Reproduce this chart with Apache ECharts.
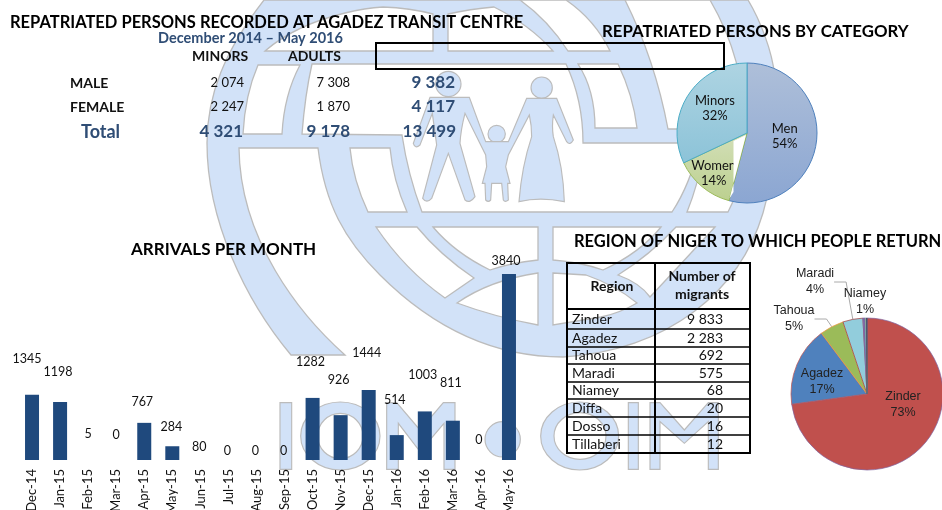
<!DOCTYPE html>
<html>
<head>
<meta charset="utf-8">
<title>Repatriated persons at Agadez transit centre</title>
<style>html,body{margin:0;padding:0;background:#fff}#main{width:942px;height:510px}</style>
<script src="https://cdn.jsdelivr.net/npm/echarts@6/dist/echarts.min.js"></script>
</head>
<body>
<div id="main"></div>
<script>
// arrivals per month
var months = ['Dec-14','Jan-15','Feb-15','Mar-15','Apr-15','May-15','Jun-15','Jul-15','Aug-15','Sep-15','Oct-15','Nov-15','Dec-15','Jan-16','Feb-16','Mar-16','Apr-16','May-16'];
var arrivals = [1345,1198,5,0,767,284,80,0,0,0,1282,926,1444,514,1003,811,0,3840];

// summary table
var rowNames = ['MALE','FEMALE'];
var minors = [2074,2247];
var adults = [7308,1870];
var rowTotals = [9382,4117];
var totalMinors = 4321, totalAdults = 9178, grandTotal = 13499;

// category pie
var categories = ['Men','Women','Minors'];
var categoryValues = [7308,1870,4321];

// regions
var regions = ['Zinder','Agadez','Tahoua','Maradi','Niamey','Diffa','Dosso','Tillaberi'];
var regionValues = [9833,2283,692,575,68,20,16,12];

var FONT = 'Lato';
var NAVY = '#2f4d75';

function fmt(n) {
  return String(n).replace(/\B(?=(\d{3})+$)/g, ' ');
}

function txt(s, x, y, size, opt) {
  opt = opt || {};
  return {
    type: 'text', x: x, y: y, z: 6,
    style: {
      text: s, fontFamily: FONT, fontSize: size,
      fontWeight: opt.bold ? 'bold' : 'normal',
      fill: opt.color || '#111',
      align: opt.align || 'left', verticalAlign: 'middle'
    }
  };
}

function line(x1, y1, x2, y2, w) {
  return {type: 'line', z: 6, shape: {x1: x1, y1: y1, x2: x2, y2: y2}, style: {stroke: '#000', lineWidth: w}};
}

// graphic has no plain svg path type, so register one shape per path
var pathCount = 0;
function svgShape(d, style, z) {
  var name = 'logoPath' + (pathCount++);
  echarts.graphic.registerShape(name, echarts.graphic.extendPath(d, {}));
  return {type: name, z: z, style: style};
}

// ---- IOM logo behind everything
var BLUE = '#d2e2f8', EDGE = '#bcbcbc';
var holes = [
  'M265,51 Q295,25 345,13 Q365,8 383,7 Q410,8 433,14 L433,51 Z',
  'M448,51 L553,51 Q530,25 494,7 Q470,9 448,14 Z',
  'M568,51 L610,51 Q595,20 566,0 L520,0 Q548,20 568,51 Z',
  'M258,65 L300,65 Q284,95 282,134 L243,134 Q245,95 258,65 Z',
  'M302,134 Q305,95 312,64 L566,64 Q583,100 583,143 L700,143 Q690,185 672,212 L422,212 Q408,175 402,135 Z',
  'M578,64 L618,64 Q633,95 637,128 L595,128 Q595,90 578,64 Z',
  'M625,0 Q655,60 668,129 L745,129 Q745,60 710,0 Z',
  'M687,212 L728,212 Q742,185 748,155 L703,155 Q698,185 687,212 Z',
  'M350,148 L390,148 Q393,180 407,212 L368,212 Q353,180 350,148 Z',
  'M376,227 L417,227 Q440,255 474,278 L445,298 Q405,270 376,227 Z',
  'M433,227 L538,227 L538,260 Q510,263 490,270 Q455,253 433,227 Z',
  'M538,273 L538,325 Q495,317 457,303 Q490,280 538,273 Z',
  'M553,227 L661,227 Q640,253 603,270 Q580,262 553,260 Z',
  'M553,273 Q570,274 586,275 Q615,285 637,303 Q620,313 601,317 L553,325 Z',
  'M618,275 Q640,283 650,297 Q680,265 715,227 L676,227 Q650,255 618,275 Z'
];
var logo = [svgShape(
  'M264,0 C225,50 207,95 207,143 C207,220 245,300 291,355 L345,355 C300,315 240,240 239,148 L318,148 C325,205 345,240 380,275 C420,315 480,357 563,357 C670,350 740,290 763,213 C775,170 785,110 775,77 C772,50 760,20 748,0 Z',
  {fill: BLUE, stroke: EDGE, lineWidth: 1.3}, 0
)];
holes.forEach(function (d) {
  logo.push(svgShape(d, {fill: '#fff', stroke: EDGE, lineWidth: 1.3}, 0));
});

var partStyle = {fill: BLUE, stroke: EDGE, lineWidth: 3.5};

// family, drawn in a 3x space
var family = [
  {type: 'circle', z: 1, shape: {cx: 685, cy: 72, r: 38}, style: partStyle},
  {type: 'circle', z: 1, shape: {cx: 830, cy: 222, r: 26}, style: partStyle},
  {type: 'circle', z: 1, shape: {cx: 965, cy: 83, r: 32}, style: partStyle},
  svgShape('M630,112 L748,112 L797,245 L865,245 L920,115 L1010,115 L1060,240 Q1050,258 1040,245 L1000,165 Q995,200 1000,230 Q1030,320 1033,425 Q960,410 897,425 Q905,320 935,230 Q935,195 928,165 L865,285 L857,320 L870,370 L863,370 L865,420 Q855,428 850,420 L845,370 L815,370 L812,420 Q805,428 797,420 L795,370 L787,370 L800,320 L797,285 L735,160 Q722,210 720,250 L765,410 Q750,432 735,420 L685,280 L635,415 Q620,432 608,415 L650,255 L637,160 L600,255 Q585,268 580,250 Z', partStyle, 1)
];

// IOM . OIM letters, also 3x
var letters = [
  {type: 'rect', z: 1, shape: {x: 30, y: 68, width: 35, height: 200}, style: partStyle},
  svgShape('M92,168 A119,102 0 1 1 330,168 A119,102 0 1 1 92,168 Z M143,168 A68,68 0 1 0 279,168 A68,68 0 1 0 143,168 Z', partStyle, 1),
  svgShape('M350,268 L350,68 L380,68 L450,150 L520,68 L555,68 L555,268 L522,268 L522,130 L450,215 L385,130 L385,268 Z', partStyle, 1),
  {type: 'circle', z: 1, shape: {cx: 698, cy: 178, r: 53}, style: partStyle},
  svgShape('M812,168 A117,102 0 1 1 1046,168 A117,102 0 1 1 812,168 Z M852,168 A78,70 0 1 0 1008,168 A78,70 0 1 0 852,168 Z', partStyle, 1),
  {type: 'rect', z: 1, shape: {x: 1075, y: 68, width: 30, height: 200}, style: partStyle},
  svgShape('M1140,268 L1140,68 L1170,68 L1243,150 L1315,68 L1345,68 L1345,268 L1315,268 L1315,125 L1243,190 L1170,125 L1170,268 Z', partStyle, 1)
];

// ---- text tables
var graphics = logo.concat([
  {type: 'group', x: 220, y: 60, scaleX: 1 / 3, scaleY: 1 / 3, children: family},
  {type: 'group', x: 270, y: 380, scaleX: 1 / 3, scaleY: 1 / 3, children: letters},
  {type: 'rect', z: 6, shape: {x: 376, y: 43, width: 348, height: 26}, style: {fill: 'none', stroke: '#000', lineWidth: 2}},
  // white gap in the Women slice
  {type: 'polygon', z: 4, shape: {points: [[733.5,141],[746,135],[729.5,198.5],[733.5,192]]}, style: {fill: '#fff'}},
  txt('December 2014 – May 2016', 158, 38, 14.5, {bold: true, color: NAVY}),
  txt('MINORS', 192, 56, 14, {bold: true}),
  txt('ADULTS', 288, 56, 14, {bold: true}),
  txt('Total', 81, 132, 18, {bold: true, color: NAVY}),
  txt(fmt(totalMinors), 243, 132, 17, {bold: true, color: NAVY, align: 'right'}),
  txt(fmt(totalAdults), 350, 132, 17, {bold: true, color: NAVY, align: 'right'}),
  txt(fmt(grandTotal), 456, 132, 17, {bold: true, color: NAVY, align: 'right'})
]);

var rowY = [83, 107];
rowNames.forEach(function (name, i) {
  graphics.push(txt(name, 70, rowY[i], 14, {bold: true}));
  graphics.push(txt(fmt(minors[i]), 244, rowY[i], 13, {align: 'right'}));
  graphics.push(txt(fmt(adults[i]), 350, rowY[i], 13, {align: 'right'}));
  graphics.push(txt(fmt(rowTotals[i]), 455, rowY[i], 17, {bold: true, color: NAVY, align: 'right'}));
});

// region table
var tableLines = [263, 309, 329, 347, 364, 382, 399, 417, 435, 453];
tableLines.forEach(function (y, i) {
  graphics.push(line(566, y, 751, y, (i < 2 || i == 9) ? 2 : 1.5));
});
graphics.push(line(567, 263, 567, 453, 2));
graphics.push(line(655, 263, 655, 453, 2));
graphics.push(line(750, 263, 750, 453, 2));
graphics.push(txt('Region', 612, 286, 14, {bold: true, align: 'center'}));
graphics.push(txt('Number of', 702, 276, 14, {bold: true, align: 'center'}));
graphics.push(txt('migrants', 702, 294, 14, {bold: true, align: 'center'}));
regions.forEach(function (r, i) {
  var y = (tableLines[i + 1] + tableLines[i + 2]) / 2;
  graphics.push(txt(r, 572, y, 14));
  graphics.push(txt(fmt(regionValues[i]), 723, y, 14, {align: 'right'}));
});

// bar labels sit away from the bars in the reference
var labelShift = [[-5,-26],[-2,-21],[0,-16],[0,-16],[-2,-11],[-1,-10],[-1,0],[-1,0],[-1,0],[-1,0],[-2,-26],[-2,-26],[-2,-28],[-2,-26],[-2,-27],[-2,-28],[-2,-11],[-3,-4]];

var categoryColors = [
  new echarts.graphic.LinearGradient(0, 0, 0, 1, [{offset: 0, color: '#aebfd9'}, {offset: 1, color: '#8ba6d2'}]),
  new echarts.graphic.LinearGradient(0, 0, 0, 1, [{offset: 0, color: '#d3dfb8'}, {offset: 1, color: '#bcd08f'}]),
  new echarts.graphic.LinearGradient(0, 0, 0, 1, [{offset: 0, color: '#aed4e2'}, {offset: 1, color: '#8cc3d8'}])
];
var categoryBorders = ['#4f81bd', '#9bbb59', '#4bacc6'];
var categoryShift = [[0, -2], [-9, 11], [0, -4]];

var regionColors = ['#c0504d','#4f81bd','#9bbb59','#92cddc','#8064a2','#4bacc6','#f79646','#2c4d75'];
var regionBorders = ['#8064a2','#c0504d','#f79646','#a33a3a','#8064a2','#4bacc6','#f79646','#2c4d75'];
var regionLabelAt = [[903,405],[822,382],[794,319],[815,282],[865,302]];

function titleStyle(size) {
  return {fontFamily: FONT, fontWeight: 'bold', fontSize: size, color: '#000'};
}

var myChart = echarts.init(document.getElementById('main'));
myChart.setOption({
  animation: false,
  backgroundColor: '#fff',
  title: [
    {text: 'REPATRIATED PERSONS RECORDED AT AGADEZ TRANSIT CENTRE', left: 5, top: 9, textStyle: titleStyle(16.5)},
    {text: 'REPATRIATED PERSONS BY CATEGORY', left: 597, top: 18, textStyle: titleStyle(16.8)},
    {text: 'ARRIVALS PER MONTH', left: 126, top: 236, textStyle: titleStyle(17)},
    {text: 'REGION OF NIGER TO WHICH PEOPLE RETURN', left: 569, top: 228, textStyle: titleStyle(16.5)}
  ],
  // axis labels run off the page bottom on purpose, keep the grid where it is
  grid: {left: 18, top: 274, width: 505, height: 186, outerBoundsMode: 'none'},
  xAxis: {
    type: 'category',
    data: months,
    z: 3,
    axisLine: {show: false},
    axisTick: {show: false},
    axisLabel: {rotate: 90, interval: 0, margin: 9, fontFamily: FONT, fontSize: 13, color: '#111'}
  },
  yAxis: {type: 'value', min: 0, max: 3840, show: false},
  graphic: graphics,
  series: [
    {
      type: 'bar',
      data: arrivals.map(function (v, i) {
        // the reference shows no bar for the very small months
        return {value: v, label: {offset: labelShift[i]}, itemStyle: v < 100 ? {color: 'transparent'} : {}};
      }),
      barWidth: 14,
      itemStyle: {color: '#1f497d'},
      label: {show: true, position: 'top', distance: 3, fontFamily: FONT, fontSize: 12.5, color: '#111'}
    },
    {
      type: 'pie',
      center: [747, 133],
      radius: 70,
      startAngle: 90,
      data: categories.map(function (c, i) {
        return {name: c, value: categoryValues[i], itemStyle: {color: categoryColors[i], borderColor: categoryBorders[i], borderWidth: 1}};
      }),
      label: {position: 'inside', formatter: function (p) { return p.name + '\n' + Math.round(p.percent) + '%'; }, fontFamily: FONT, fontSize: 13, lineHeight: 15, color: '#111'},
      labelLayout: function (p) {
        return {dx: categoryShift[p.dataIndex][0], dy: categoryShift[p.dataIndex][1]};
      }
    },
    {
      type: 'pie',
      center: [867, 394],
      radius: 76,
      startAngle: 90,
      data: regions.map(function (r, i) {
        return {
          name: r,
          value: regionValues[i],
          itemStyle: {color: regionColors[i], borderColor: regionBorders[i], borderWidth: 0.7},
          label: {show: i < 5, position: i < 2 ? 'inside' : 'outside'},
          labelLine: {show: i == 2 || i == 3, length: 6, length2: 12, lineStyle: {color: '#aaa', width: 1}}
        };
      }),
      label: {formatter: function (p) { return p.name + '\n' + Math.max(1, Math.round(p.percent)) + '%'; }, fontFamily: 'Liberation Sans', fontSize: 12.5, lineHeight: 16, color: '#222', letterSpacing: -0.4},
      labelLayout: function (p) {
        var at = regionLabelAt[p.dataIndex];
        if (!at) return {};
        return {x: at[0], y: at[1], align: 'center', verticalAlign: 'middle'};
      }
    }
  ]
});
</script>
</body>
</html>
